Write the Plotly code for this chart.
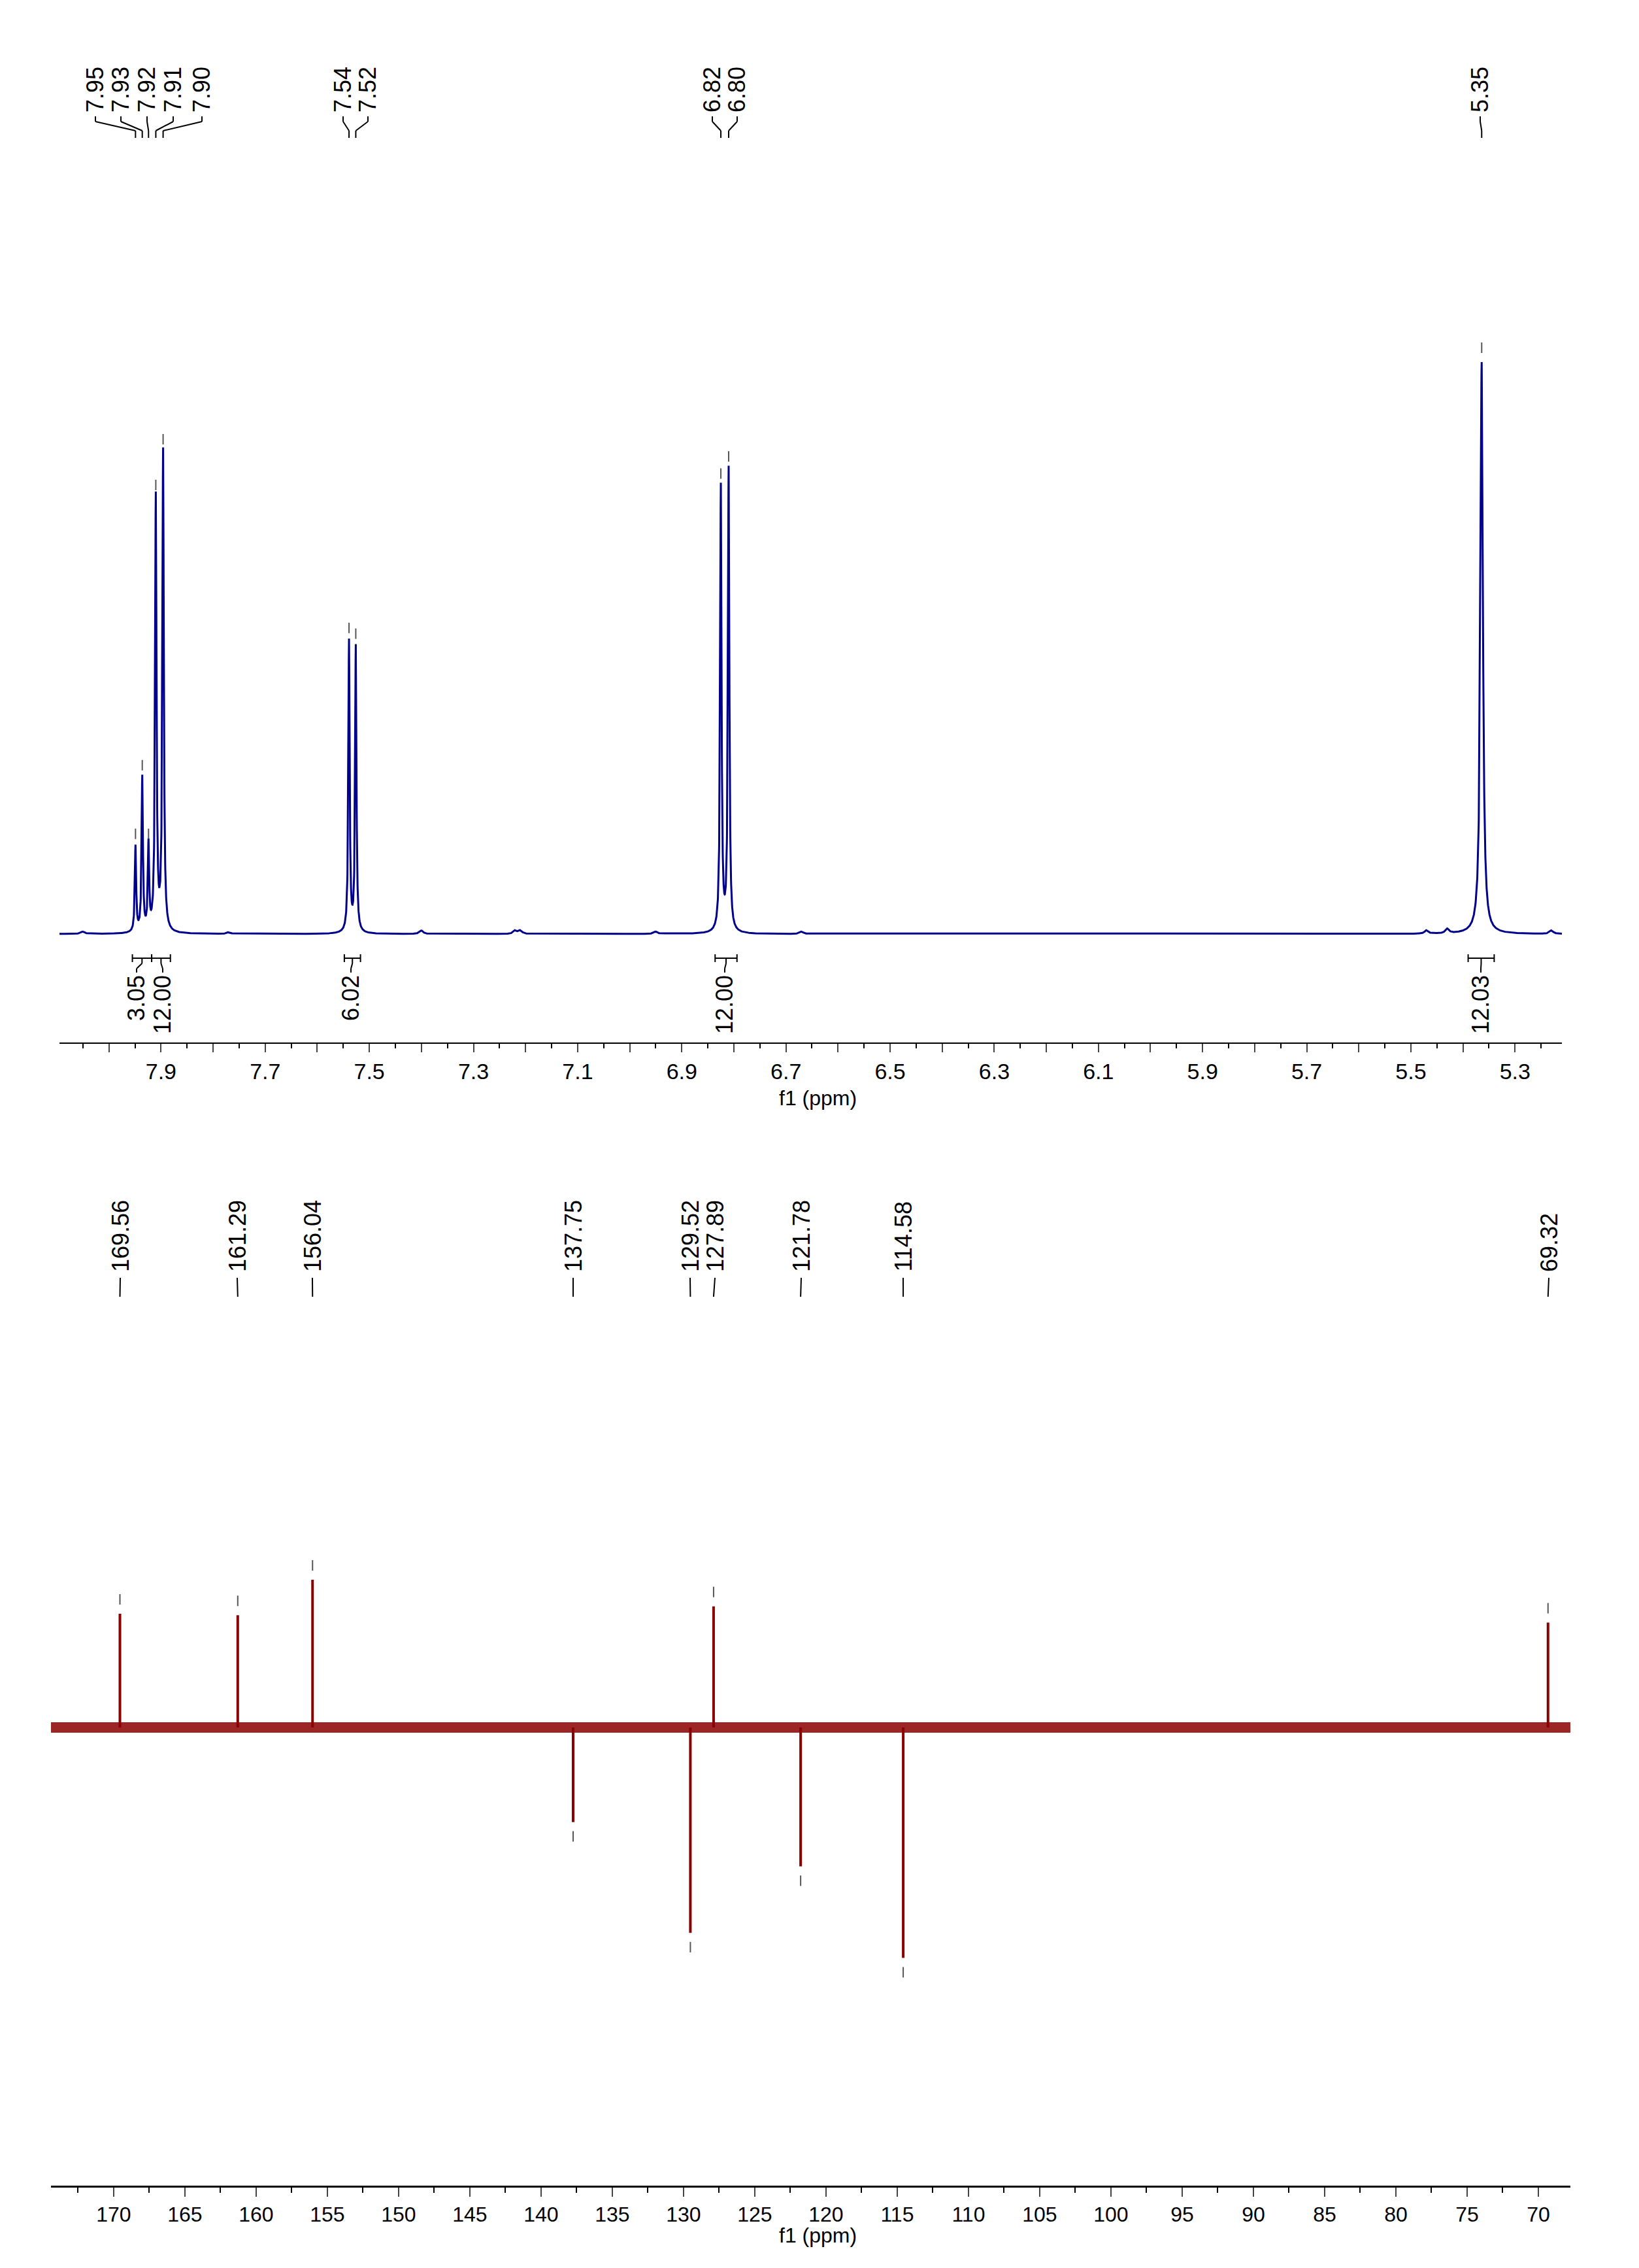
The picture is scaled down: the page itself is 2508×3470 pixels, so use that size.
import numpy as np
import plotly.graph_objects as go

W, H = 2508, 3470
# ---- 1H data ----
h_peaks = [7.949, 7.936, 7.924, 7.910, 7.896, 7.539, 7.526, 6.825, 6.810, 5.364]
h_heights = [0.15, 0.27, 0.15, 0.76, 0.84, 0.51, 0.50, 0.78, 0.81, 1.0]
h_widths = [0.0015, 0.0015, 0.0015, 0.0016, 0.0016, 0.0015, 0.0015, 0.0016, 0.0016, 0.0028]
h_labels = ["7.95", "7.93", "7.92", "7.91", "7.90", "7.54", "7.52", "6.82", "6.80", "5.35"]
h_label_px = [138, 177, 217, 257, 301, 517, 555, 1082, 1120, 2257]
h_small = [8.05, 7.77, 7.40, 7.22, 7.21, 6.95, 6.67, 5.47, 5.43, 5.23]
h_small_h = [0.004, 0.003, 0.006, 0.006, 0.006, 0.004, 0.004, 0.006, 0.008, 0.006]
int_from = [7.955, 7.918, 7.548, 6.836, 5.39]
int_to = [7.918, 7.882, 7.517, 6.794, 5.34]
int_labels = ["3.05", "12.00", "6.02", "12.00", "12.03"]
int_label_px = [201, 241, 529, 1101, 2258]
# ---- 13C data ----
c_peaks = [169.56, 161.29, 156.04, 137.75, 129.52, 127.89, 121.78, 114.58, 69.32]
c_heights = [0.77, 0.76, 1.0, -0.64, -1.39, 0.82, -0.94, -1.56, 0.71]
c_labels = ["169.56", "161.29", "156.04", "137.75", "129.52", "127.89", "121.78", "114.58", "69.32"]
c_label_px = [176, 355, 470, 869, 1048, 1086, 1218, 1374, 2362]

X1 = [8.095, 5.21]
X2 = [174.4, 67.75]
TOPDOM = [1 - 1587 / H, 1]
BOTDOM = [1 - 3336 / H, 1 - 1700 / H]
Y1 = [-166 / 875, 1421 / 875]
Y2 = [-701 / 226, 935 / 226]
BLUE = "#00008B"
RED = "#8B0000"
FONT = "Liberation Sans, Arial, sans-serif"

def P(py):
    return 1 - py / H

def px2ppm1(px):
    return X1[0] - (px - 83) * (X1[0] - X1[1]) / (2382 - 83)

def px2ppm2(px):
    return X2[0] - (px - 70) * (X2[0] - X2[1]) / (2395 - 70)

x = np.arange(X1[1], X1[0], 0.0002)
y = np.zeros_like(x)
for p, h, g in zip(h_peaks + h_small, h_heights + h_small_h, h_widths + [0.004] * len(h_small)):
    y += h / (1 + ((x - p) / g) ** 2)

fig = go.Figure()
fig.add_trace(go.Scatter(x=x, y=y, mode="lines", line=dict(color=BLUE, width=3),
                         xaxis="x", yaxis="y", hoverinfo="skip"))
fig.add_trace(go.Scatter(x=X2, y=[0, 0], mode="lines", line=dict(color=RED, width=16),
                         opacity=0.85, xaxis="x2", yaxis="y2", hoverinfo="skip"))
sx, sy = [], []
for p, h in zip(c_peaks, c_heights):
    sx += [p, p, None]
    sy += [0, h, None]
fig.add_trace(go.Scatter(x=sx, y=sy, mode="lines", line=dict(color=RED, width=4),
                         xaxis="x2", yaxis="y2", hoverinfo="skip"))

shapes, anns = [], []
def seg(xr, x0, y0, x1, y1, color="black", w=2):
    shapes.append(dict(type="line", xref=xr, yref="paper", x0=x0, x1=x1, y0=P(y0), y1=P(y1),
                       line=dict(color=color, width=w)))

def label(xr, xv, py, text, yanchor):
    anns.append(dict(xref=xr, yref="paper", x=xv, y=P(py), text=text, textangle=-90,
                     xanchor="center", yanchor=yanchor, showarrow=False,
                     font=dict(family=FONT, size=36, color="black")))

for p, lab, lpx in zip(h_peaks, h_labels, h_label_px):
    lx = px2ppm1(lpx)
    label("x", lx, 166, lab, "bottom")
    seg("x", lx, 170, lx, 178)
    seg("x", lx, 178, p, 192)
    seg("x", p, 192, p, 203)
for p, h in zip(h_peaks, h_heights):
    top = 1421 - 875 * h
    seg("x", p, top - 30, p, top - 14, color="#555555", w=2)
for a, b, lab, lpx in zip(int_from, int_to, int_labels, int_label_px):
    seg("x", a, 1458, b, 1458)
    seg("x", a, 1452, a, 1464)
    seg("x", b, 1452, b, 1464)
    m = (a + b) / 2
    lx = px2ppm1(lpx)
    seg("x", m, 1458, m, 1466)
    seg("x", m, 1466, lx, 1474)
    seg("x", lx, 1474, lx, 1480)
    label("x", lx, 1482, lab, "top")
for p, lab, lpx in zip(c_peaks, c_labels, c_label_px):
    lx = px2ppm2(lpx)
    label("x2", lx, 1940, lab, "bottom")
    seg("x2", lx, 1947, p, 1976)
for p, h in zip(c_peaks, c_heights):
    tip = 2635 - 226 * h
    if h > 0:
        seg("x2", p, tip - 30, p, tip - 14, color="#555555", w=2)
    else:
        seg("x2", p, tip + 14, p, tip + 30, color="#555555", w=2)

anns.append(dict(xref="paper", yref="paper", x=1243 / W, y=P(1672), text="f1 (ppm)",
                 showarrow=False, font=dict(family=FONT, size=32, color="black")))
anns.append(dict(xref="paper", yref="paper", x=1243 / W, y=P(3432), text="f1 (ppm)",
                 showarrow=False, font=dict(family=FONT, size=32, color="black")))

t1 = [round(8.0 - 0.1 * i, 1) for i in range(29)]
t1txt = [("%.1f" % v) if round(v * 10) % 2 == 1 else "" for v in t1]
t2 = list(range(170, 65, -5))

fig.update_layout(
    width=W, height=H, margin=dict(l=0, r=0, t=0, b=0), showlegend=False,
    paper_bgcolor="white", plot_bgcolor="white",
    xaxis=dict(domain=[83 / W, 2382 / W], range=X1, anchor="y", showgrid=False, zeroline=False,
               showline=True, linecolor="black", linewidth=2, ticks="outside", ticklen=13,
               tickwidth=2, tickvals=t1, ticktext=t1txt,
               tickfont=dict(family=FONT, size=34, color="black"),
               minor=dict(ticks="outside", dtick=0.05, ticklen=7, tickwidth=2, tickcolor="black")),
    yaxis=dict(domain=TOPDOM, range=Y1, visible=False),
    xaxis2=dict(domain=[70 / W, 2395 / W], range=X2, anchor="y2", showgrid=False, zeroline=False,
                showline=True, linecolor="black", linewidth=3, ticks="outside", ticklen=14,
                tickwidth=2, tickvals=t2, tickfont=dict(family=FONT, size=32, color="black"),
                minor=dict(ticks="outside", dtick=2.5, ticklen=8, tickwidth=2, tickcolor="black")),
    yaxis2=dict(domain=BOTDOM, range=Y2, visible=False),
    shapes=shapes, annotations=anns,
)
fig.write_html("out.html")
